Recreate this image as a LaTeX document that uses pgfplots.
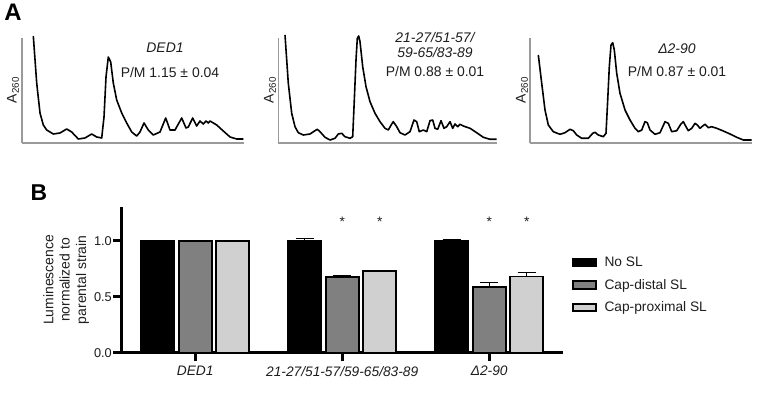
\documentclass[border=0pt]{standalone}
\usepackage{pgfplots}
\pgfplotsset{compat=1.18}
\usepackage{fontspec}
\setmainfont{Liberation Sans}
\definecolor{txt}{HTML}{1E1E1E}
\definecolor{midgray}{HTML}{808080}
\definecolor{ltgray}{HTML}{D0D0D0}
\definecolor{axgray}{HTML}{9A9A9A}
\newcommand{\fs}{\fontsize{13.8}{16}\selectfont}
\newcommand{\fsa}{\fontsize{14}{16}\selectfont}
\pgfplotsset{
  profile/.style={
    scale only axis, axis lines=left,
    axis line style={-, draw=axgray, line width=1.5bp},
    xtick=\empty, ytick=\empty, ymin=0, ymax=105, height=105bp,
    clip=false, anchor=south west,
  },
  trace/.style={black, line width=1.6bp, line join=round, mark=none},
  mylegend/.style={legend image code/.code={\draw[##1, line width=1.8bp] (0bp,-3.8bp) rectangle (23bp,3.8bp);}},
}
\begin{document}
\begin{tikzpicture}[x=1bp,y=1bp]
\useasboundingbox (0,0) rectangle (771,403);
\fill[white] (0,0) rectangle (771,403);

% ---------- Panel A ----------
\begin{axis}[profile, at={(22bp,260bp)}, width=222bp, xmin=22, xmax=244]
\addplot[trace] coordinates {
(33.3,107)(36.7,60)(40,30)(43.3,18)(46.7,13)(53.3,9)(60,10)(66.7,14)(71.7,11)(78.3,4)(85,5)(91.7,9)(96.7,6)(101.7,5)(104,26)(106,66)(108.3,86)(110.7,81)(113.3,60)(116.7,43)(121.7,30)(126.7,20)(131.7,11)(136.7,7)(140,11)(144,20)(148.3,13)(153.3,8)(160,11)(165.7,25)(170,13)(175,13)(181.7,25)(186,15)(188.3,16)(192.7,25)(196.7,17)(200,22)(203.3,19)(206,22)(208.3,20)(210,22)(216.7,18)(223.3,12)(230,6)(236.7,4)(243.3,4)
};
\end{axis}

\begin{axis}[profile, at={(278.3bp,260bp)}, width=218.4bp, xmin=278.3, xmax=496.7]
\addplot[trace] coordinates {
(285.0,108)(288.3,59.7)(291.7,29.7)(295,16.3)(298.3,10.3)(303.3,8)(310,9)(315,12.3)(317.3,13.7)(320,11.3)(325,5.7)(330,3)(335,4.7)(338.3,9)(341.7,9.7)(345,6.3)(350,4.7)(352.7,6.3)(354.3,43)(356,83)(357.3,104.7)(358.7,107)(360,101.3)(362.7,76.3)(366,56.3)(370,41.3)(375,29.7)(380,21.3)(385,14.7)(388.3,13)(391.7,19)(393.3,21.3)(396.7,16.3)(400,10.3)(405,8)(410,11.3)(414,23)(416.7,21.3)(419.3,11.3)(423.3,13)(426.7,11.3)(430,22.3)(432.7,23)(435,14.7)(437.7,13.7)(441,22.3)(444,14.7)(446.7,16.3)(450,21.3)(452.7,14.7)(455,19)(457.7,16.3)(460,18.7)(463.3,17)(470,14.7)(476.7,10.3)(483.3,5.7)(490,3.7)(496.7,3.7)
};
\end{axis}

\begin{axis}[profile, at={(530bp,260bp)}, width=221.7bp, xmin=530, xmax=751.7]
\addplot[trace] coordinates {
(538.3,88)(541.7,59.7)(545,33)(548.3,18)(553.3,11.3)(560,8.7)(565,10.3)(570,13.7)(573.3,12.3)(576.7,8)(581.7,4.7)(588.3,4.7)(592.7,9.7)(595,10.7)(598.3,8)(603.3,6.3)(606,9.7)(607.7,43)(609.3,76.3)(611,98)(612.7,100.3)(614.3,93)(616.7,69.7)(620,49.7)(625,33)(630,23)(635,14.7)(638.3,11.3)(641.7,13)(645,21.3)(647.3,20.3)(650,13)(655,8.7)(660,10.3)(665,21.3)(668.3,19.7)(671.7,11.3)(676.7,12.3)(680.7,18.7)(683.3,21.3)(686,16.3)(688.3,12.3)(691.7,14.7)(695,19.7)(697.3,18)(700,14.7)(702.7,17)(705,18.7)(708.3,15.3)(711.7,16.3)(716.7,14.7)(723.3,12)(730,9)(736.7,5.7)(743.3,3)(751.7,3)
};
\end{axis}

\node[font=\bfseries\fontsize{24}{24}\selectfont] at (13,390.5) {A};
\node[font=\bfseries\fontsize{23}{23}\selectfont] at (39,210) {B};

\foreach \xx in {13,270,522}{
  \node[rotate=90, font=\fsa, text=txt] at (\xx,313) {A\textsubscript{260}};
}
\node[font=\fsa\itshape, text=txt] at (165,355) {DED1};
\node[font=\fsa, text=txt] at (170,330) {P/M 1.15 ± 0.04};
\node[font=\fsa\itshape, text=txt, align=center] at (435,358) {21-27/51-57/\\59-65/83-89};
\node[font=\fsa, text=txt] at (435,331) {P/M 0.88 ± 0.01};
\node[font=\fsa\itshape, text=txt] at (677,354) {Δ2-90};
\node[font=\fsa, text=txt] at (677,331) {P/M 0.87 ± 0.01};

% ---------- Panel B ----------
\begin{axis}[
  at={(121.7bp,50.3bp)}, anchor=south west, scale only axis,
  width=441bp, height=145.6bp,
  xmin=-0.5, xmax=2.5, ymin=0, ymax=1.3,
  axis lines=left, axis line style={-, line width=3bp, black},
  ybar=4.5bp, bar width=33bp,
  xtick={0,1,2},
  xticklabels={\textit{DED1}, \textit{21-27/51-57/59-65/83-89}, \textit{Δ2-90}},
  ytick={0,0.5,1},
  /pgf/number format/assume math mode=true,
  xticklabel style={font=\fs, text=txt, yshift=-1.5bp},
  yticklabel style={font=\fontsize{12.8}{14}\selectfont, text=txt, inner sep=1.2bp,
    /pgf/number format/.cd, fixed, fixed zerofill, precision=1},
  tick align=outside, major tick length=8.5bp,
  tick style={line width=2.8bp, black},
  ylabel={Luminescence\\normalized to\\parental strain},
  ylabel style={font=\fontsize{14}{16.5}\selectfont, text=txt, align=center, at={(axis description cs:-0.126,0.5)}, anchor=center},
  legend style={draw=none, fill=none, at={(1.02,0.671)}, anchor=north west,
    font=\fs, text=txt, row sep=7bp, column sep=6bp, inner sep=0pt},
  legend cell align=left,
  clip=false,
  error bars/y dir=plus, error bars/y explicit,
  error bars/error bar style={line width=1.4bp, black},
  error bars/error mark options={rotate=90, mark size=9bp, line width=1.4bp, black},
]
\addplot[fill=black, draw=black, line width=1.8bp, mylegend] coordinates {
  (0,1.0) +- (0,0) (1,1.0) +- (0,0.02) (2,1.0) +- (0,0.01)};
\addplot[fill=midgray, draw=black, line width=1.8bp, mylegend] coordinates {
  (0,1.0) +- (0,0) (1,0.675) +- (0,0.015) (2,0.59) +- (0,0.035)};
\addplot[fill=ltgray, draw=black, line width=1.8bp, mylegend] coordinates {
  (0,1.0) +- (0,0) (1,0.73) +- (0,0) (2,0.68) +- (0,0.035)};
\legend{No SL, Cap-distal SL, Cap-proximal SL}
\node[font=\fs, text=txt] at (axis cs:1,1.17) {*};
\node[font=\fs, text=txt] at (axis cs:1.255,1.17) {*};
\node[font=\fs, text=txt] at (axis cs:2,1.17) {*};
\node[font=\fs, text=txt] at (axis cs:2.255,1.17) {*};
\end{axis}
\end{tikzpicture}
\end{document}
